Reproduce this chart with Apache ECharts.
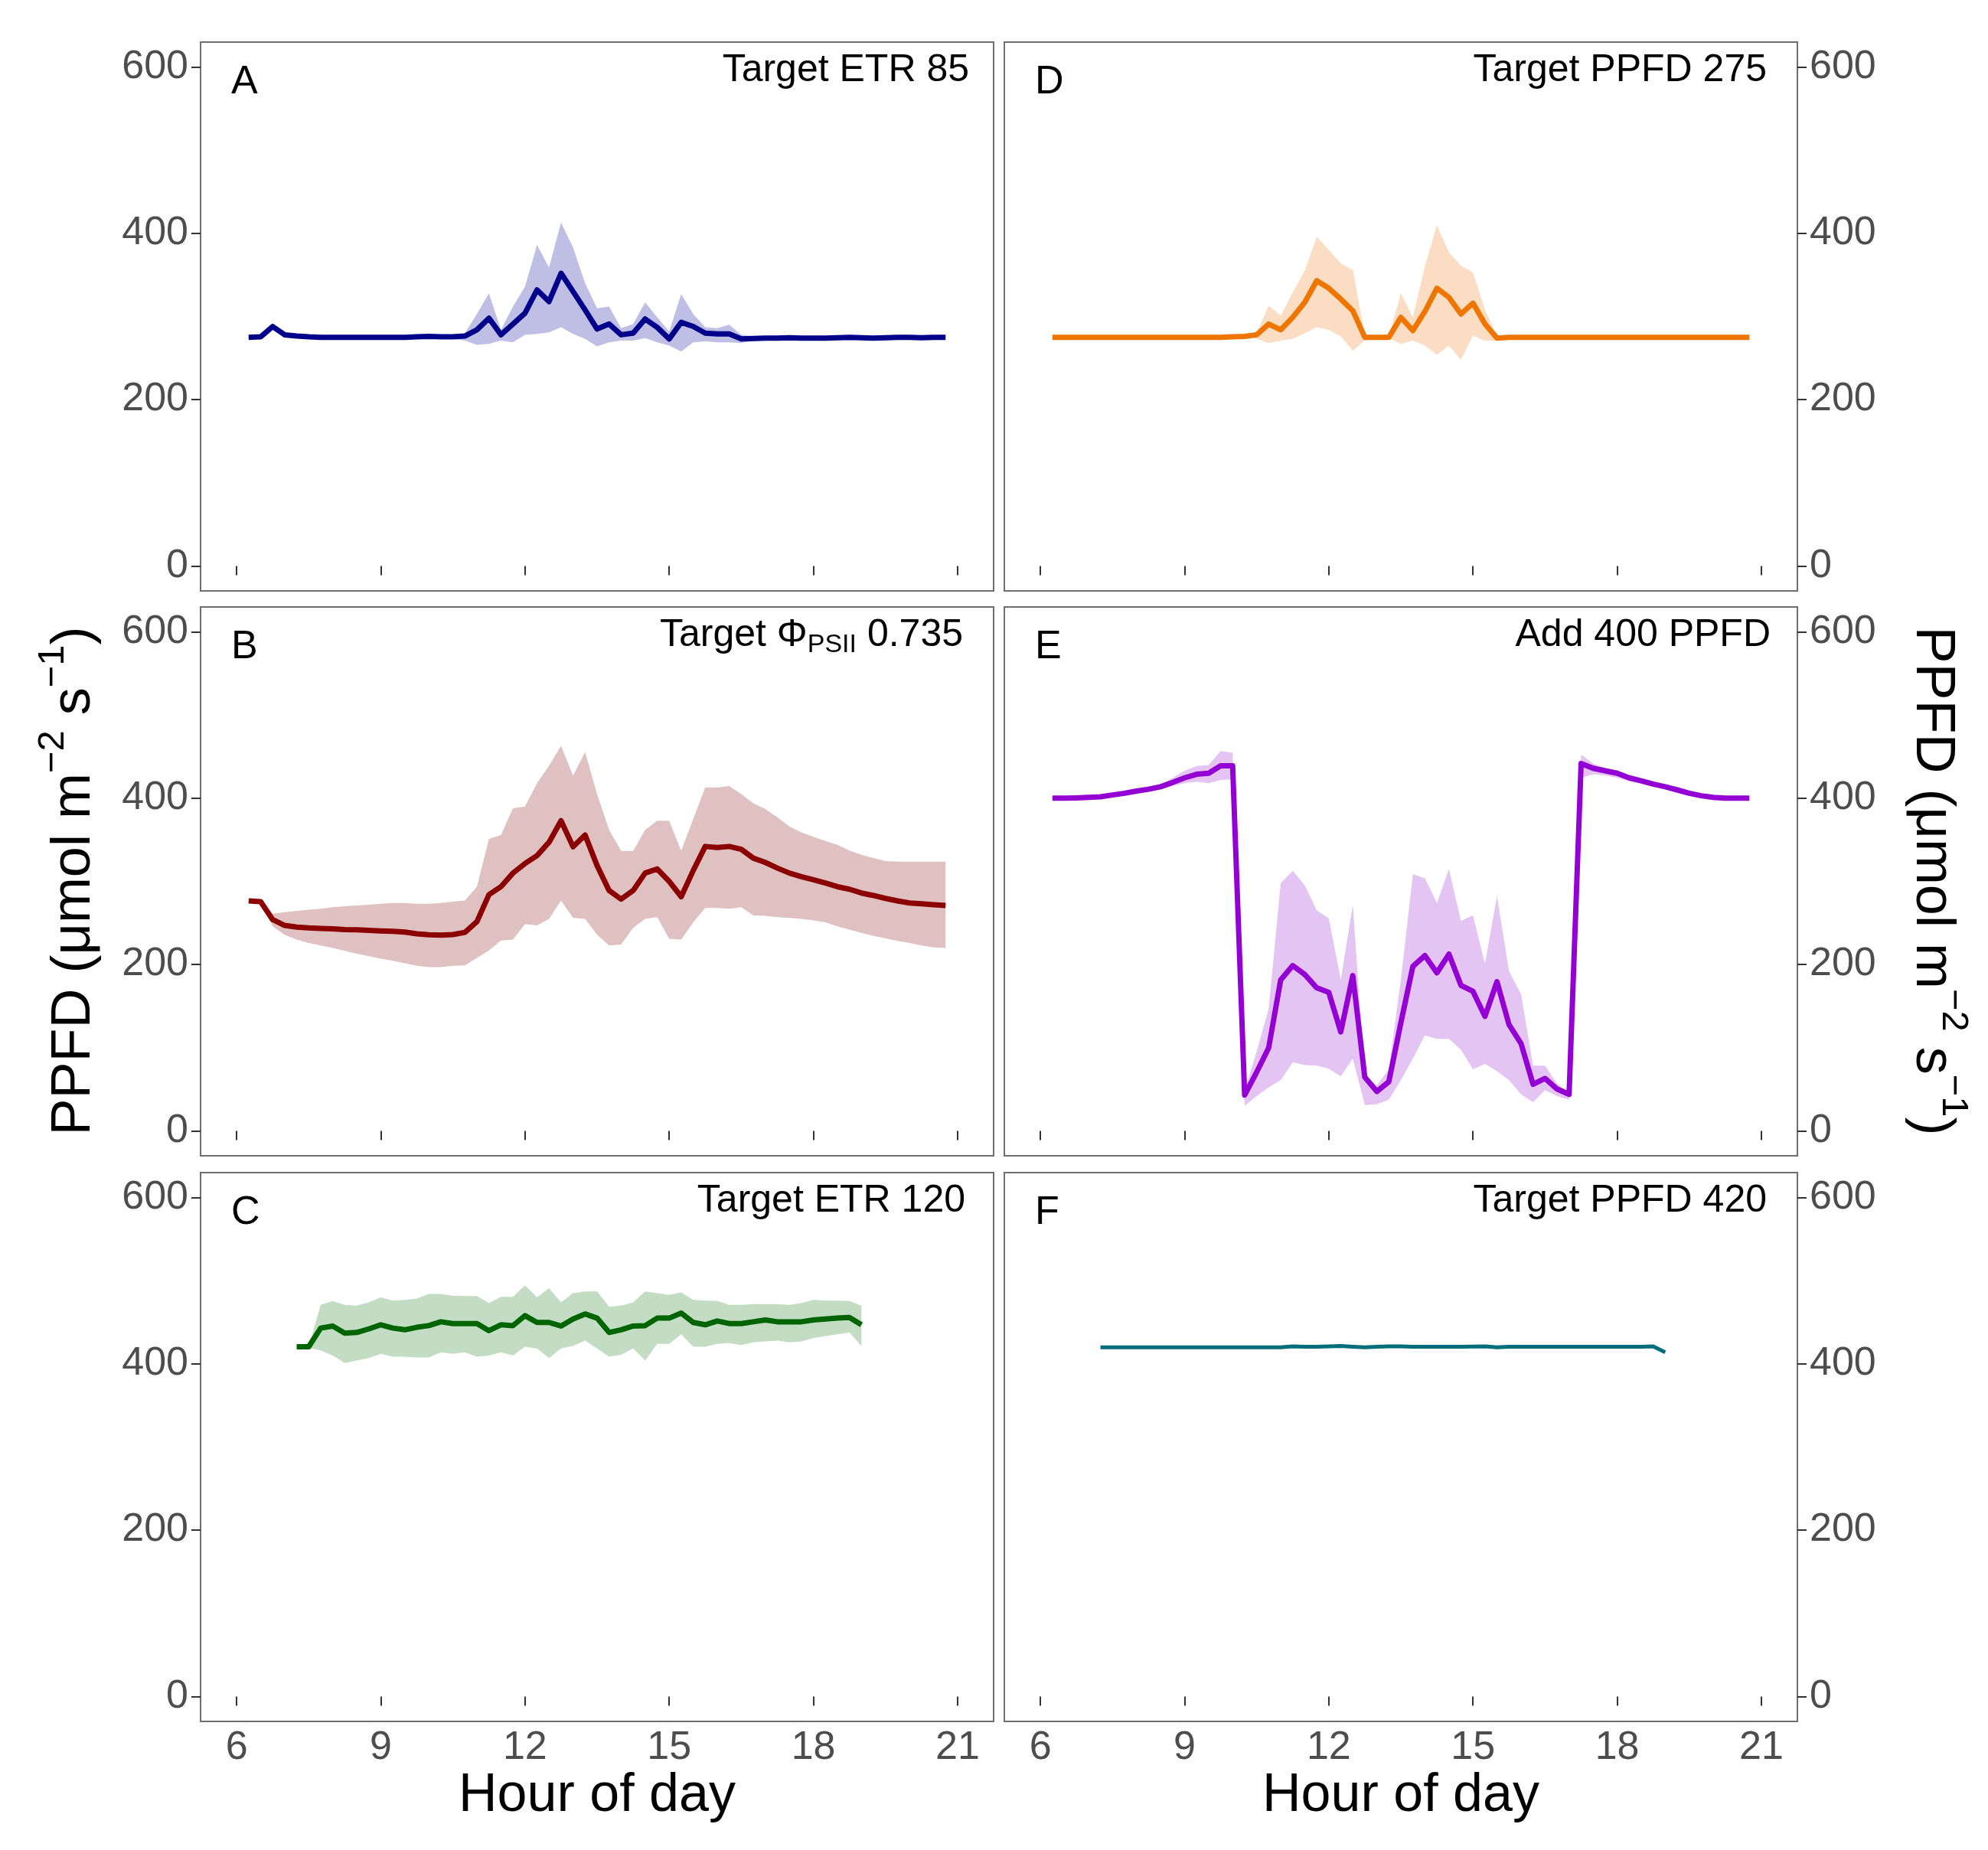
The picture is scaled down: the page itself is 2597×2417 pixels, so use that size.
<!DOCTYPE html>
<html>
<head>
<meta charset="utf-8">
<script src="https://cdn.jsdelivr.net/npm/echarts@6/dist/echarts.min.js"></script>
<style>
  html, body { margin: 0; padding: 0; background: #fff; }
  #chart { width: 2597px; height: 2417px; }
</style>
</head>
<body>
<div id="chart"></div>
<script>
// x positions (hour of day), 15 min steps
const hoursFull = [
  6.25, 6.5, 6.75, 7, 7.25, 7.5, 7.75, 8, 8.25, 8.5, 8.75, 9,
  9.25, 9.5, 9.75, 10, 10.25, 10.5, 10.75, 11, 11.25, 11.5, 11.75, 12,
  12.25, 12.5, 12.75, 13, 13.25, 13.5, 13.75, 14, 14.25, 14.5, 14.75, 15,
  15.25, 15.5, 15.75, 16, 16.25, 16.5, 16.75, 17, 17.25, 17.5, 17.75, 18,
  18.25, 18.5, 18.75, 19, 19.25, 19.5, 19.75, 20, 20.25, 20.5, 20.75
];
const hoursShort = [
  7.25, 7.5, 7.75, 8, 8.25, 8.5, 8.75, 9,
  9.25, 9.5, 9.75, 10, 10.25, 10.5, 10.75, 11, 11.25, 11.5, 11.75, 12,
  12.25, 12.5, 12.75, 13, 13.25, 13.5, 13.75, 14, 14.25, 14.5, 14.75, 15,
  15.25, 15.5, 15.75, 16, 16.25, 16.5, 16.75, 17, 17.25, 17.5, 17.75, 18,
  18.25, 18.5, 18.75, 19
];

const xTicks = [6, 9, 12, 15, 18, 21];
const yTicks = [0, 200, 400, 600];

// A: Target ETR 85
const etr85Mean = [
  275, 275.5, 288, 278, 276.5, 275.5, 275, 275, 275, 275, 275, 275,
  275, 275, 275.5, 276, 275.5, 275.5, 276.5, 284, 298, 278, 291, 304,
  332, 318, 352, 330, 308, 285, 291, 278, 280, 297, 287, 273,
  293, 288, 280, 279, 279, 273, 273.5, 274, 274, 274.5, 274, 274,
  274, 274.5, 275, 274.5, 274, 274.5, 275, 275, 274.5, 275, 275
];
const etr85Upper = [
  276, 277, 291, 280, 278, 277, 276, 276, 276, 276, 276, 276,
  276, 276, 277, 278, 277, 278, 280, 303, 328, 284, 312, 336,
  386, 359, 413, 383, 340, 310, 312, 286, 291, 317, 299, 282,
  327, 303, 287, 286, 290, 278, 276, 276, 276, 276.5, 276, 276,
  276, 276.5, 277, 276.5, 276, 276.5, 277, 277, 276.5, 277, 277
];
const etr85Lower = [
  274, 274, 285, 276, 275, 274, 274, 274, 274, 274, 274, 274,
  274, 274, 274, 274, 274, 273, 271, 266, 267, 271, 269, 278,
  279, 281, 287, 279, 273, 264, 269, 271, 271, 274, 269, 265,
  258, 269, 270, 269, 269, 268, 271, 272, 272, 272.5, 272, 272,
  272, 272.5, 273, 272.5, 272, 272.5, 273, 273, 272.5, 273, 273
];

// B: Target PhiPSII 0.735
const phiMean = [
  276.5, 275.6, 254, 247, 245, 244, 243.5, 243, 242, 241.7, 241, 240.5,
  240, 239, 237, 235.7, 235.3, 236, 238.7, 251.6, 284, 293.6, 310, 321.5,
  331, 347, 373, 341.6, 355.8, 319, 289, 278.6, 289, 310, 315, 300,
  281.6, 313, 342, 340.8, 342, 338.6, 328, 322.8, 316, 310, 305.6, 302,
  298, 293.6, 290.6, 286, 283, 279.5, 276.5, 274, 273, 272, 271
];
const phiUpper = [
  277, 276, 261, 263, 264.5, 266, 267, 269, 270, 271, 272, 273,
  274, 274, 273, 273, 274, 275.6, 277, 293.6, 351, 355.8, 388, 390,
  418, 439, 463, 427, 455.6, 405, 362, 336.5, 336.5, 362, 373, 373,
  336.5, 375, 413, 413, 414.5, 405, 394, 387, 377, 366, 358.8, 353.6,
  348.5, 344, 337, 332, 328, 324.5, 323.6, 323.6, 323.6, 323.6, 323.6
];
const phiLower = [
  276, 275, 246, 235.7, 230, 226, 223, 220, 216.5, 213, 210, 207,
  204.5, 201.5, 198.5, 197, 197, 198.5, 199, 208, 217, 229, 230, 248.6,
  247, 255, 277, 256, 255, 235.7, 223, 224, 244, 255, 257, 231,
  230, 250.7, 268, 268, 267, 269, 259, 258.5, 257, 256, 255, 253,
  250.7, 246, 242, 238, 234.5, 231.5, 228.5, 226, 223, 220.7, 220
];

// C: Target ETR 120
const etr120Mean = [
  420.6, 420.6, 443, 445.5, 437, 437.8, 442, 447,
  443, 441, 444, 446, 450.6, 448.5, 448.5, 448.5, 440, 447, 446, 458,
  449.8, 449.8, 445.5, 454, 460, 455, 437.8, 441, 445.5, 446, 455, 455,
  461, 449.8, 447, 451.5, 448.5, 448.5, 450.6, 452.8, 450.6, 450.6, 450.6, 452.8,
  454, 455, 455.8, 447
];
const etr120Upper = [
  421, 421, 471, 475.5, 471, 470, 474, 480,
  476, 477, 478.5, 484, 484, 482, 481.5, 481.5, 473, 480.7, 480.7, 494.4,
  480, 491, 474, 485, 487, 487, 468.7, 470, 474, 487, 485, 483,
  486, 477, 476, 475.5, 471, 471, 472, 472, 472, 471, 473, 477,
  476, 476, 475.5, 470
];
const etr120Lower = [
  420, 419.7, 416, 410, 401, 404, 407, 412,
  408.6, 408.6, 407.7, 407.7, 414, 412, 414, 408.6, 410, 414, 410, 420.6,
  418.5, 407, 418.5, 421.5, 428, 418.5, 408.6, 411, 418.5, 404, 424, 424,
  435.6, 420.6, 420.6, 424, 425, 422.7, 425.8, 427, 428, 425.8, 427, 431,
  433.5, 435.6, 437.8, 421.5
];

// D: Target PPFD 275
const ppfd275Mean = [
  275, 275, 275, 275, 275, 275, 275, 275, 275, 275, 275, 275,
  275, 275, 275, 275.5, 276, 278, 291, 284, 299, 317, 343, 334,
  321, 307, 275, 275, 275, 299, 283, 306, 334, 323, 303, 316,
  291, 274, 275, 275, 275, 275, 275, 275, 275, 275, 275, 275,
  275, 275, 275, 275, 275, 275, 275, 275, 275, 275, 275
];
const ppfd275Upper = [
  276, 276, 276, 276, 276, 276, 276, 276, 276, 276, 276, 276,
  276, 276, 276, 276.5, 277, 280, 313, 301, 329, 355, 396, 380,
  364, 356, 278, 276, 276, 328, 299, 360, 410, 377, 361, 353,
  308, 277, 276, 276, 276, 276, 276, 276, 276, 276, 276, 276,
  276, 276, 276, 276, 276, 276, 276, 276, 276, 276, 276
];
const ppfd275Lower = [
  274, 274, 274, 274, 274, 274, 274, 274, 274, 274, 274, 274,
  274, 274, 274, 274.5, 275, 273, 268, 271, 273, 280, 287, 284,
  276, 259, 271, 274, 274, 267, 271, 265, 254, 265, 248, 277,
  271, 271, 274, 274, 274, 274, 274, 274, 274, 274, 274, 274,
  274, 274, 274, 274, 274, 274, 274, 274, 274, 274, 274
];

// E: Add 400 PPFD
const add400Mean = [
  400, 400, 400.4, 401, 401.7, 403.9, 406, 408.6, 410.8, 413.8, 419, 424.5,
  428.8, 430, 439, 439, 43, 70.5, 99.8, 181.5, 198.7, 188, 172, 166.5,
  119, 186.7, 64.5, 47.3, 59, 130, 197.8, 210.8, 190, 212.5, 175, 167.7,
  137.6, 179.4, 127.7, 105, 56, 63, 50.3, 43.9, 441.7, 436, 433, 430,
  424.5, 421, 417, 413.8, 410, 406, 403, 401, 400, 400, 400
];
const add400Upper = [
  401, 401, 401.4, 402, 402.7, 405, 407, 410, 413, 416, 424.5, 433,
  438.7, 440, 456.8, 454.6, 48, 95.5, 147, 297.6, 312.7, 295.5, 265, 255.5,
  181.5, 271.8, 65, 54.6, 74, 181.5, 308.4, 304, 274, 314.8, 252.5, 259,
  201, 282.6, 192, 164.3, 78.3, 78.3, 56.8, 46, 452.5, 441.7, 436, 433,
  427.5, 423.4, 419.4, 415.5, 411.6, 407.3, 404, 401.7, 400.5, 400.5, 400.5
];
const add400Lower = [
  399, 399, 399.4, 400, 400.7, 402.5, 405, 406, 408.6, 410.8, 414.6, 418,
  420, 418, 422, 423, 30, 41.7, 52.5, 61, 82.6, 79, 78.3, 74.8,
  65.4, 86.9, 31, 31.8, 37.4, 61, 86.9, 114.8, 110.5, 110.5, 97.6, 74,
  80.4, 71.8, 61, 43.9, 34.4, 49, 41.7, 37.4, 424.5, 428.8, 427.5, 424.5,
  420.5, 417.5, 414, 411.8, 408.6, 405.2, 402.6, 400.9, 399.5, 399.5, 399.5
];

// F: Target PPFD 420 (no visible ribbon)
const ppfd420Mean = [
  420, 420, 420, 420, 420, 420, 420, 420,
  420, 420, 420, 420, 420, 420, 420, 420, 421, 420.5, 420.5, 421,
  421.5, 420.5, 419.8, 420.5, 421, 421, 420.5, 420.5, 420.5, 420.5, 420.5, 420.8,
  421, 420, 420.5, 420.5, 420.5, 420.5, 420.5, 420.5, 420.5, 420.5, 420.5, 420.5,
  420.5, 420.5, 421, 414
];

const FONT = '"Liberation Sans", Arial, sans-serif';
const colLeft = [262, 1312];
const rowTop = [55, 793, 1532];
const panelW = 1036;
const panelH = 717;

const panels = [
  { tag: 'A', note: 'Target ETR 85', hours: hoursFull, mean: etr85Mean, upper: etr85Upper, lower: etr85Lower,
    color: '#00008B', fill: '#BFBFE5', col: 0, row: 0, noteInset: 32 },
  { tag: 'B', note: 'Target {n|Φ}{sub|PSII}{n| 0.735}', rich: true, hours: hoursFull, mean: phiMean, upper: phiUpper, lower: phiLower,
    color: '#8B0000', fill: '#E0C1C2', col: 0, row: 1, noteInset: 40 },
  { tag: 'C', note: 'Target ETR 120', hours: hoursShort, mean: etr120Mean, upper: etr120Upper, lower: etr120Lower,
    color: '#006400', fill: '#C2DDC4', col: 0, row: 2, noteInset: 37 },
  { tag: 'D', note: 'Target PPFD 275', hours: hoursFull, mean: ppfd275Mean, upper: ppfd275Upper, lower: ppfd275Lower,
    color: '#EE7600', fill: '#FADDC2', col: 1, row: 0, noteInset: 40 },
  { tag: 'E', note: 'Add 400 PPFD', hours: hoursFull, mean: add400Mean, upper: add400Upper, lower: add400Lower,
    color: '#9400D3', fill: '#E4C4F3', col: 1, row: 1, noteInset: 35 },
  { tag: 'F', note: 'Target PPFD 420', hours: hoursShort, mean: ppfd420Mean, upper: null, lower: null,
    color: '#006E7A', fill: null, col: 1, row: 2, noteInset: 40, width: 5 }
];

const pairs = (hours, vals) => hours.map((h, i) => [h, vals[i]]);

const grid = [], xAxis = [], yAxis = [], series = [], graphic = [];

panels.forEach((p, i) => {
  const left = colLeft[p.col];
  const top = rowTop[p.row];
  grid.push({
    left: left, top: top, width: panelW, height: panelH,
    show: true, borderColor: '#6e6e6e', borderWidth: 2, backgroundColor: 'transparent'
  });
  xAxis.push({
    type: 'value', gridIndex: i, min: 5.25, max: 21.75,
    axisLine: { show: false }, splitLine: { show: false },
    axisTick: { show: true, customValues: xTicks, length: 12, lineStyle: { color: '#333', width: 2 } },
    axisLabel: { show: p.row === 2, customValues: xTicks, margin: 9, fontSize: 52, fontFamily: FONT, color: '#4D4D4D' }
  });
  yAxis.push({
    type: 'value', gridIndex: i, min: -30, max: 630,
    position: p.col === 0 ? 'left' : 'right',
    axisLine: { show: false }, splitLine: { show: false },
    axisTick: { show: true, customValues: yTicks, length: 12, lineStyle: { color: '#333', width: 2 } },
    axisLabel: { show: true, customValues: yTicks, margin: 16, fontSize: 52, fontFamily: FONT, color: '#4D4D4D' }
  });

  // ribbon: polygon through upper values, back along lower values
  if (p.upper) {
    series.push({
      type: 'custom', xAxisIndex: i, yAxisIndex: i, silent: true, z: 1,
      data: [[p.hours[0], p.lower[0]]],
      encode: { x: 0, y: 1 },
      renderItem: (params, api) => {
        const pts = [];
        p.hours.forEach((h, k) => pts.push(api.coord([h, p.upper[k]])));
        for (let k = p.hours.length - 1; k >= 0; k--) pts.push(api.coord([p.hours[k], p.lower[k]]));
        return { type: 'polygon', shape: { points: pts }, style: { fill: p.fill } };
      }
    });
  }
  series.push({
    type: 'line', xAxisIndex: i, yAxisIndex: i, silent: true,
    data: pairs(p.hours, p.mean), symbol: 'none',
    lineStyle: { color: p.color, width: p.width || 7, join: 'round' }, z: 3
  });

  // panel tag
  graphic.push({
    type: 'text', x: left + 40, y: top + 53,
    style: { text: p.tag, fontSize: 52, fontFamily: FONT, fill: '#000', align: 'left', verticalAlign: 'middle' }
  });
  // annotation
  const noteStyle = { text: p.note, fontSize: 50, fontFamily: FONT, fill: '#000', align: 'right', verticalAlign: 'middle' };
  if (p.rich) {
    noteStyle.rich = {
      n: { fontSize: 50, fontFamily: FONT, lineHeight: 60, verticalAlign: 'middle' },
      sub: { fontSize: 34, fontFamily: FONT, lineHeight: 28, verticalAlign: 'bottom' }
    };
  }
  graphic.push({ type: 'text', x: left + panelW - p.noteInset, y: top + 37, style: noteStyle });
});

// axis titles
const yTitle = '{n|PPFD (μmol m}{sup|−2}{n| s}{sup|−1}{n|)}';
const yTitleRich = {
  n: { fontSize: 72, fontFamily: FONT, lineHeight: 104, verticalAlign: 'middle' },
  sup: { fontSize: 49, fontFamily: FONT, lineHeight: 54, verticalAlign: 'top' }
};
graphic.push({
  type: 'text', x: 97, y: 1151, rotation: Math.PI / 2,
  style: { text: yTitle, rich: yTitleRich, fill: '#000', align: 'center', verticalAlign: 'middle' }
});
graphic.push({
  type: 'text', x: 2524, y: 1151, rotation: -Math.PI / 2,
  style: { text: yTitle, rich: yTitleRich, fill: '#000', align: 'center', verticalAlign: 'middle' }
});
[0, 1].forEach(c => {
  graphic.push({
    type: 'text', x: colLeft[c] + panelW / 2, y: 2347,
    style: { text: 'Hour of day', fontSize: 70, fontFamily: FONT, fill: '#000', align: 'center', verticalAlign: 'middle' }
  });
});

const chart = echarts.init(document.getElementById('chart'));
chart.setOption({
  animation: false,
  backgroundColor: '#ffffff',
  grid, xAxis, yAxis, series, graphic
});
</script>
</body>
</html>
